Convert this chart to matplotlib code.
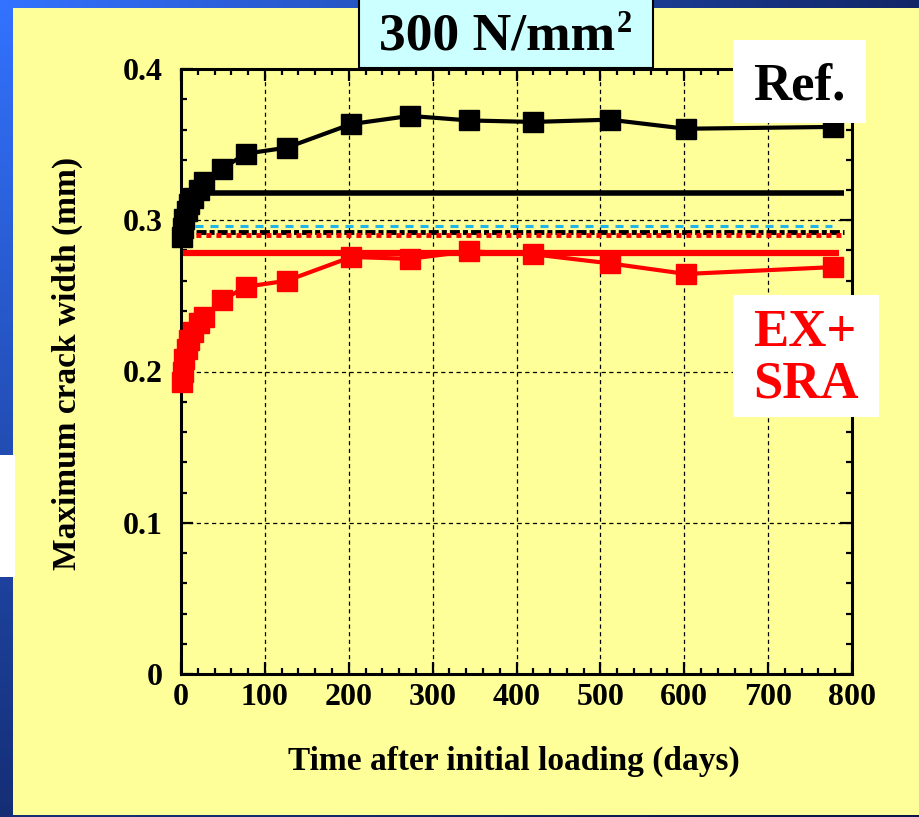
import numpy as np
import matplotlib
matplotlib.use("Agg")
import matplotlib.pyplot as plt
from matplotlib.patches import Rectangle

plt.rcParams['font.family'] = ['Liberation Serif', 'DejaVu Serif']
plt.rcParams['font.weight'] = 'bold'
plt.rcParams['lines.scale_dashes'] = False

# measured crack widths (mm) vs days after loading
ref_days = [1, 2, 4, 7, 10, 14, 21, 28, 49, 77, 126, 203, 273, 343, 420, 511, 602, 777]
ref_width = [0.289, 0.295, 0.301, 0.306, 0.311, 0.315, 0.320, 0.325, 0.334, 0.344,
             0.348, 0.3636, 0.369, 0.366, 0.365, 0.3665, 0.3605, 0.3617]
sra_days = [1, 2, 4, 7, 10, 14, 21, 28, 49, 77, 126, 203, 273, 343, 420, 511, 602, 777]
sra_width = [0.193, 0.200, 0.208, 0.215, 0.221, 0.226, 0.232, 0.236, 0.247, 0.256,
             0.260, 0.2757, 0.2745, 0.2795, 0.2775, 0.2715, 0.2645, 0.269]

# predicted (constant) widths
pred_values = [0.318, 0.2962, 0.2922, 0.2902, 0.2783]
pred_start = [4, 17, 8, 8, 2]
pred_end = [791, 776, 791, 791, 784]
pred_colors = ['black', '#1EB4EC', 'black', 'red', 'red']

x_ticks = [0, 100, 200, 300, 400, 500, 600, 700, 800]
y_ticks = [0, 0.1, 0.2, 0.3, 0.4]
y_ticklabels = ['0', '0.1', '0.2', '0.3', '0.4']

W, H = 919, 817


def fx(x):
    return x / W


def fy(y):
    return 1 - y / H


fig = plt.figure(figsize=(W / 100, H / 100), dpi=100)

# slide background
bg = fig.add_axes([0, 0, 1, 1], zorder=-10)
gx, gy = np.meshgrid(np.linspace(0, 1, 200), np.linspace(0, 1, 200))
t = np.clip(np.sqrt((gx * 1.0) ** 2 + (gy * 0.9) ** 2) / 1.2, 0, 1)[..., None]
c0 = np.array([0.20, 0.45, 1.0])
c1 = np.array([0.04, 0.09, 0.28])
grad = c0 * (1 - t) + c1 * t
bg.imshow(grad, extent=[0, 1, 0, 1], aspect='auto', origin='upper')
bg.add_patch(Rectangle((fx(13), fy(815)), 1 - fx(13), fy(8) - fy(815),
                       transform=bg.transAxes, facecolor='#FFFF99', edgecolor='none'))
bg.add_patch(Rectangle((0, fy(577)), fx(15), fy(455) - fy(577),
                       transform=bg.transAxes, facecolor='white', edgecolor='none'))
bg.set_xlim(0, 1)
bg.set_ylim(0, 1)
bg.axis('off')

ax = fig.add_axes([fx(181), fy(674), fx(852) - fx(181), fy(69) - fy(674)])
ax.set_facecolor('#FFFF99')

dash_styles = [None, (0, (5.8, 5.0)), (0, (3.6, 2.2, 7.2, 2.2)), (1.5, (3.6, 3.6)), None]
widths = [4.0, 2.2, 3.5, 3.5, 4.5]
for v, s, e, c, d, lw in zip(pred_values, pred_start, pred_end, pred_colors, dash_styles, widths):
    if d is None:
        ax.plot([s, e], [v, v], color=c, lw=lw, solid_capstyle='butt', zorder=3)
    else:
        ax.plot([s, e], [v, v], color=c, lw=lw, linestyle=d, dash_capstyle='butt', zorder=3)

ax.plot(ref_days, ref_width, color='black', lw=3, marker='s', ms=15, zorder=4, clip_on=False)
ax.plot(sra_days, sra_width, color='red', lw=3, marker='s', ms=15, zorder=4, clip_on=False)

ax.set_xlim(0, 800)
ax.set_ylim(0, 0.4)
ax.set_xticks(x_ticks)
ax.set_xticks(np.arange(0, 801, 20), minor=True)
ax.set_yticks(y_ticks)
ax.set_yticklabels(y_ticklabels)
ax.set_yticks(np.arange(0, 0.401, 0.02), minor=True)
ax.grid(True, which='major', color='black', linestyle=(0, (3, 2.5)), lw=0.9)
ax.tick_params(which='both', direction='in', top=True, right=True, width=1.6,
               labelsize=23, colors='black')
ax.tick_params(which='major', length=8.6)
ax.tick_params(which='minor', length=4.3)
ax.tick_params(axis='y', pad=13.5)
ax.tick_params(axis='x', pad=6.5)
for sp in ax.spines.values():
    sp.set_linewidth(2.2)

ax.set_xlabel('Time after initial loading (days)', fontsize=24, fontweight='bold')
ax.xaxis.set_label_coords(0.4955, -0.118)
ax.set_ylabel('Maximum crack width (mm)', fontsize=24, fontweight='bold')
ax.yaxis.set_label_coords(-0.146, 0.513)

# title box
fig.patches.append(Rectangle((fx(359), fy(68)), fx(653) - fx(359), 0.2,
                             transform=fig.transFigure, facecolor='#CCFFFF',
                             edgecolor='black', lw=1.5, zorder=5))
fig.text(fx(379), fy(50), '300 N/mm', fontsize=38.5, fontweight='bold',
         ha='left', va='baseline', zorder=6)
fig.text(fx(617), fy(32), '2', fontsize=22, fontweight='bold',
         ha='left', va='baseline', zorder=6)

# Ref. label box
fig.patches.append(Rectangle((fx(733), fy(123)), fx(866) - fx(733), fy(40) - fy(123),
                             transform=fig.transFigure, facecolor='white',
                             edgecolor='none', zorder=5))
fig.text(fx(753), fy(100), 'Ref.', fontsize=38, fontweight='bold',
         ha='left', va='baseline', zorder=6)

# EX+SRA label box
fig.patches.append(Rectangle((fx(733), fy(417)), fx(879) - fx(733), fy(295) - fy(417),
                             transform=fig.transFigure, facecolor='white',
                             edgecolor='none', zorder=5))
fig.text(fx(753), fy(346), 'EX+', fontsize=38, fontweight='bold', color='red',
         ha='left', va='baseline', zorder=6)
fig.text(fx(753), fy(398), 'SRA', fontsize=38, fontweight='bold', color='red',
         ha='left', va='baseline', zorder=6)

fig.savefig('out.png', dpi=100)
